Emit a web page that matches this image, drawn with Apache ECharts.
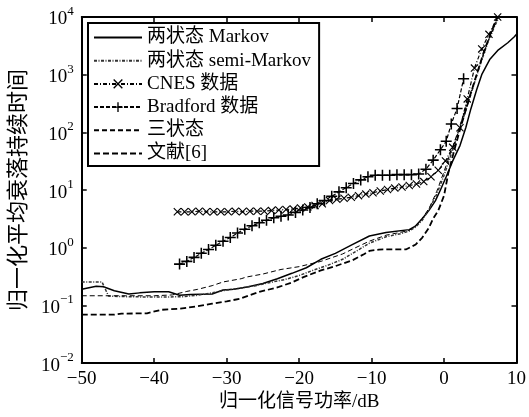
<!DOCTYPE html>
<html>
<head>
<meta charset="utf-8">
<script src="https://cdn.jsdelivr.net/npm/echarts@6/dist/echarts.min.js"></script>
<style>html,body{margin:0;padding:0;background:#fff}#c{width:529px;height:417px}</style>
</head>
<body>
<div id="c"></div>
<script>
const seriesNames = ['两状态 Markov', '两状态 semi-Markov', 'CNES 数据', 'Bradford 数据', '三状态', '文献[6]'];
const xTicks = [-50, -40, -30, -20, -10, 0, 10];
const yTickExponents = [-2, -1, 0, 1, 2, 3, 4];
const xLabel = '归一化信号功率/dB';
const yLabel = '归一化平均衰落持续时间';

const markov = [[-50,0.19],[-48,0.215],[-47,0.21],[-45.5,0.18],[-43.5,0.158],[-42,0.165],[-40,0.172],[-38,0.172],[-36.5,0.15],[-35,0.155],[-32,0.158],[-30.5,0.185],[-29,0.19],[-27,0.21],[-25,0.24],[-23,0.29],[-21,0.36],[-19,0.45],[-17,0.63],[-15,0.8],[-12.6,1.14],[-10.3,1.6],[-8,1.83],[-4.8,2.06],[-3.9,2.4],[-3,3.2],[-2.1,4.4],[-1.2,6.5],[-0.5,10],[0.3,17],[1.2,32],[2.2,59],[3,120],[3.7,255],[4.5,550],[5.2,1000],[5.8,1390],[6.3,1830],[7.5,2700],[8.8,3580],[9.7,4540],[10,5000]];
const semiMarkov = [[-50,0.255],[-47.2,0.255],[-46.3,0.145],[-44,0.142],[-41,0.14],[-38,0.14],[-36,0.142],[-34,0.15],[-32,0.165],[-30,0.185],[-28,0.2],[-26,0.22],[-24,0.25],[-22,0.28],[-20,0.33],[-18,0.41],[-16,0.5],[-14,0.63],[-12.6,0.8],[-10.3,1.2],[-8,1.55],[-6,1.75],[-4.8,1.95],[-3.9,2.3],[-3,3.0],[-2,4.8],[-1,8.5],[0,18],[1,42],[2,100],[3,240],[4,600],[5,1500],[6,3500],[7,7000],[7.6,10000]];
const cnes = [[-36.8,4.2],[-35.8,4.2],[-34.8,4.2],[-33.8,4.3],[-32.8,4.2],[-31.8,4.2],[-30.8,4.2],[-29.8,4.2],[-28.8,4.3],[-27.8,4.2],[-26.8,4.3],[-25.8,4.3],[-24.8,4.3],[-23.8,4.4],[-22.8,4.5],[-21.8,4.6],[-20.8,4.7],[-19.8,4.9],[-18.8,5.1],[-17.8,5.4],[-16.8,5.8],[-15.8,6.6],[-14.8,6.9],[-13.8,7.2],[-12.8,7.5],[-11.8,8.0],[-10.8,8.5],[-9.8,9.0],[-8.8,9.6],[-7.8,10.2],[-6.8,10.8],[-5.8,11.3],[-4.8,12],[-3.8,12.7],[-2.8,14],[-1.8,17],[-0.8,22],[0.2,32],[1.2,55],[2.2,120],[3.2,380],[4.2,1300],[5.2,2800],[6.2,5000],[7.4,10000]];
const bradford = [[-36.5,0.52],[-35.5,0.58],[-34.5,0.68],[-33.5,0.8],[-32.5,0.93],[-31.5,1.1],[-30.5,1.3],[-29.5,1.5],[-28.5,1.8],[-27.5,2.1],[-26.5,2.4],[-25.5,2.7],[-24.5,3.0],[-23.5,3.3],[-22.5,3.5],[-21.5,3.7],[-20.5,4.1],[-19.5,4.5],[-18.5,5.0],[-17.5,5.8],[-16.5,6.6],[-15.5,7.8],[-14.5,9.3],[-13.5,11],[-12.5,13],[-11.5,15],[-10.5,17],[-9.5,18],[-8.5,18],[-7.5,18],[-6.5,18.5],[-5.5,18.5],[-4.5,18.5],[-3.5,19],[-2.5,23],[-1.5,33],[-0.5,50],[0.3,70],[1,140],[1.8,260],[2.7,850]];
const threeState = [[-50,0.147],[-44,0.147],[-40,0.147],[-37.5,0.152],[-35.5,0.175],[-34,0.19],[-32,0.22],[-30.5,0.255],[-28,0.29],[-27.3,0.31],[-25,0.35],[-22.5,0.42],[-20,0.47],[-17,0.58],[-14,0.78],[-12.6,0.95],[-10.3,1.3],[-8,1.65],[-6,1.85],[-4.8,2.0],[-3.9,2.4],[-3,3.2],[-2,5],[-1,9.5],[0,21],[1,48],[2,110],[3,270],[4,650],[5,1600],[6,3600],[7,7500],[7.3,10000]];
const ref6 = [[-50,0.069],[-45.5,0.069],[-44.5,0.072],[-41,0.073],[-39,0.084],[-36.4,0.088],[-34,0.097],[-32,0.107],[-30,0.118],[-28.2,0.13],[-26.5,0.155],[-25.5,0.171],[-22.8,0.209],[-21,0.25],[-19.4,0.31],[-17.1,0.4],[-15,0.48],[-12.6,0.61],[-11,0.78],[-10.3,0.88],[-9,0.93],[-7,0.94],[-5.2,0.94],[-3.9,1.14],[-3,1.5],[-2.1,2.2],[-1.5,3.2],[-0.8,4.4],[0,8],[0.6,20],[1.6,60],[2.5,150],[3.5,400],[4.5,1000],[5.5,2500],[6.5,5500],[7.4,10000]];

const FONT = "'Liberation Serif','Noto Sans CJK SC',serif";
const plusPath = 'path://M4.3,0h1.4v10h-1.4z M0,4.3h10v1.4h-10z';
const crossPath = 'path://M0,1L1,0L10,9L9,10Z M9,0L10,1L1,10L0,9Z';
const noMark = 'path://M0,0L10,10';

const chart = echarts.init(document.getElementById('c'), null, {renderer: 'canvas'});
const minus = v => String(v).replace('-', '\u2212');
const supLabel = v => {
  const e = Math.round(Math.log10(v));
  return yTickExponents.includes(e) ? '{b|10}{s|' + minus(e) + '}' : '';
};
const mk = (name, data, ls, extra) => Object.assign({
  name, type: 'line', data, xAxisIndex: 0, yAxisIndex: 0,
  symbol: noMark, showSymbol: false, smooth: false, clip: true,
  lineStyle: Object.assign({color: '#000', width: 1.3}, ls),
  itemStyle: {color: '#000', borderWidth: 0},
  emphasis: {disabled: true}, animation: false
}, extra || {});

const axisCommon = {
  axisLine: {onZero: false, lineStyle: {color: '#000', width: 2}},
  axisTick: {inside: true, length: 5, lineStyle: {color: '#000', width: 1.5}},
  splitLine: {show: false}
};
const hidden = {opacity: 0, borderWidth: 0};

chart.setOption({
  animation: false,
  backgroundColor: '#fff',
  textStyle: {fontFamily: FONT},
  grid: {left: 78, right: 10, top: 17, bottom: 50, containLabel: false},
  legend: {
    orient: 'vertical', left: 88, top: 23,
    padding: [5, 8, 3, 5],
    itemWidth: 48, itemHeight: 12, itemGap: 4.2,
    borderColor: '#000', borderWidth: 2, backgroundColor: '#fff',
    textStyle: {fontFamily: FONT, fontSize: 19, lineHeight: 16, color: '#000'},
    data: [
      {name: seriesNames[0], itemStyle: hidden},
      {name: seriesNames[1], itemStyle: hidden},
      {name: seriesNames[2]},
      {name: seriesNames[3]},
      {name: seriesNames[4], itemStyle: hidden},
      {name: seriesNames[5], itemStyle: hidden}
    ]
  },
  xAxis: [Object.assign({
    type: 'value', min: xTicks[0], max: xTicks[xTicks.length - 1], interval: 10, position: 'bottom',
    axisLabel: {color: '#000', fontSize: 19, margin: 6, fontFamily: FONT, formatter: minus},
    name: xLabel, nameLocation: 'middle', nameGap: 29,
    nameTextStyle: {color: '#000', fontSize: 19, fontFamily: FONT}
  }, axisCommon), Object.assign({
    type: 'value', min: xTicks[0], max: xTicks[xTicks.length - 1], interval: 10, position: 'top',
    axisLabel: {show: false}
  }, axisCommon)],
  yAxis: [Object.assign({
    type: 'log', logBase: 10, min: 0.01, max: 10000, interval: 1, position: 'left',
    axisLabel: {color: '#000', margin: 8, formatter: supLabel,
      rich: {b: {fontSize: 19, fontFamily: FONT, color: '#000', lineHeight: 24, verticalAlign: 'bottom'},
             s: {fontSize: 13, fontFamily: FONT, color: '#000', verticalAlign: 'top', lineHeight: 13}}},
    name: yLabel, nameLocation: 'middle', nameGap: 44, nameRotate: 90,
    nameTextStyle: {color: '#000', fontSize: 22, fontFamily: FONT}
  }, axisCommon), Object.assign({
    type: 'log', logBase: 10, min: 0.01, max: 10000, interval: 1, position: 'right',
    axisLabel: {show: false}
  }, axisCommon)],
  series: [
    mk(seriesNames[0], markov, {type: 'solid', width: 1.5}),
    mk(seriesNames[1], semiMarkov, {type: [3, 1.5, 1, 1.5], width: 1.5, color: '#333'}, {itemStyle: {color: '#333', borderWidth: 0}}),
    mk(seriesNames[2], cnes, {type: [4, 2, 1, 2], width: 1.2}, {symbol: crossPath, symbolSize: 8, showSymbol: true}),
    mk(seriesNames[3], bradford, {type: [4, 2], width: 1.2}, {symbol: plusPath, symbolSize: 11, showSymbol: true}),
    mk(seriesNames[4], threeState, {type: [5, 3], width: 1}),
    mk(seriesNames[5], ref6, {type: [6, 3], width: 1.8})
  ]
});
</script>
</body>
</html>
